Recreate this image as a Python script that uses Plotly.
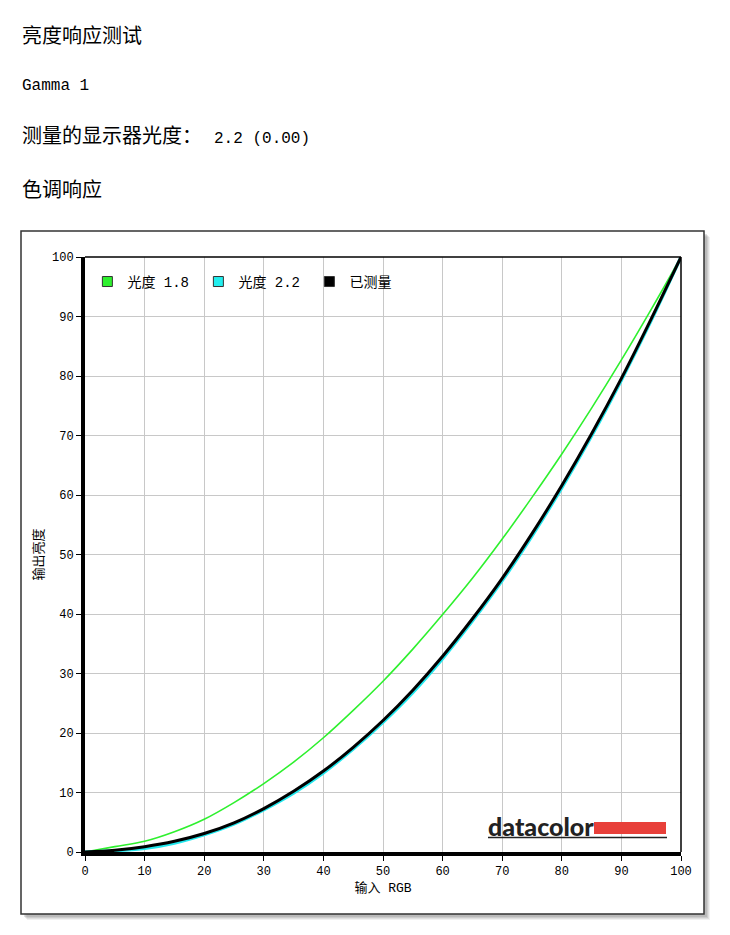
import plotly.graph_objects as go

# tone response curves at every 5 RGB steps
rgb_input = [0, 5, 10, 15, 20, 25, 30, 35, 40, 45, 50,
             55, 60, 65, 70, 75, 80, 85, 90, 95, 100]
gamma_18 = [0, 0.9, 1.8, 3.4, 5.5, 8.3, 11.5, 15.1, 19.2, 23.8, 28.7,
            34.1, 39.9, 46.0, 52.6, 59.6, 66.9, 74.6, 82.7, 91.2, 100]
gamma_22 = [0, 0.2, 0.6, 1.5, 2.9, 4.7, 7.1, 9.9, 13.3, 17.3, 21.8,
            26.8, 32.5, 38.8, 45.6, 53.1, 61.2, 69.9, 79.3, 89.3, 100]
measured = [0, 0.3, 0.9, 1.8, 3.1, 4.9, 7.3, 10.2, 13.6, 17.6, 22.1,
            27.2, 32.9, 39.2, 46.0, 53.5, 61.6, 70.3, 79.6, 89.6, 100]
ticks = [0, 10, 20, 30, 40, 50, 60, 70, 80, 90, 100]

# page pixels (the browser puts the figure 8px in from the corner)
OFF = 8
W, H = 714, 919
L, R, T, B = 85, 681, 257, 852   # plot area in page pixels


def px(x):
    return (x - L) / (R - L)


def py(y):
    return (B - y) / (B - T)


CJK = "Noto Sans CJK SC"
MONO = "Liberation Mono, Noto Sans CJK SC"
GREEN, CYAN = "#2ef02e", "#22e8ee"

fig = go.Figure()
fig.add_trace(go.Scatter(x=rgb_input, y=gamma_18, mode="lines", showlegend=False,
                         line=dict(color=GREEN, width=1.6, shape="spline")))
fig.add_trace(go.Scatter(x=rgb_input, y=gamma_22, mode="lines", showlegend=False,
                         line=dict(color=CYAN, width=3.2, shape="spline")))
fig.add_trace(go.Scatter(x=rgb_input, y=measured, mode="lines", showlegend=False,
                         line=dict(color="#000000", width=3, shape="spline")))

# legend entries with square swatches
for name, col in [("光度 1.8", GREEN), ("光度 2.2", "#22eeee"), ("已测量", "#000000")]:
    fig.add_trace(go.Scatter(x=[None], y=[None], mode="markers", name=name,
                             marker=dict(symbol="square", size=10, color=col,
                                         line=dict(color="#333333", width=1))))

shapes = []
# soft shadow behind the chart frame
for i, op in enumerate([0.10, 0.14, 0.18, 0.22]):
    d = 6 - i
    shapes.append(dict(type="rect", xref="paper", yref="paper", layer="below",
                       x0=px(21 + d), x1=px(704 + d), y0=py(914 + d), y1=py(231 + d),
                       fillcolor=f"rgba(120,120,120,{op})", line=dict(width=0)))
shapes.append(dict(type="rect", xref="paper", yref="paper", layer="below",
                   x0=px(21), x1=px(704), y0=py(914), y1=py(231),
                   fillcolor="white", line=dict(color="#333333", width=1.5)))
# thin top and right borders of the plot area
shapes.append(dict(type="line", xref="paper", yref="paper", x0=0, x1=1, y0=1, y1=1,
                   line=dict(color="black", width=1.5)))
shapes.append(dict(type="line", xref="paper", yref="paper", x0=1, x1=1, y0=0, y1=1,
                   line=dict(color="black", width=1.5)))
# datacolor logo bar + underline
shapes.append(dict(type="rect", xref="paper", yref="paper",
                   x0=px(594), x1=px(666), y0=py(834), y1=py(822),
                   fillcolor="#e8403a", line=dict(width=0)))
shapes.append(dict(type="line", xref="paper", yref="paper",
                   x0=px(488), x1=px(667), y0=py(837.5), y1=py(837.5),
                   line=dict(color="#222222", width=1.5)))

annotations = [
    dict(text="亮度响应测试", x=px(20), y=py(34), font=dict(family=CJK, size=20)),
    dict(text="Gamma 1", x=px(20), y=py(86), font=dict(family=MONO, size=16)),
    dict(text="测量的显示器光度： <span style='font-size:16px'>2.2 (0.00)</span>",
         x=px(20), y=py(137), font=dict(family=MONO, size=20)),
    dict(text="色调响应", x=px(20), y=py(188), font=dict(family=CJK, size=20)),
    dict(text="datacolor", x=px(486), y=py(826),
         font=dict(family="Lato", size=25, color="#222222", weight=900)),
]
for a in annotations:
    a.update(xref="paper", yref="paper", xanchor="left", yanchor="middle", showarrow=False)
    a["font"].setdefault("color", "black")

axis_common = dict(range=[0, 100], tickvals=ticks, showgrid=True, gridcolor="#c8c8c8",
                   gridwidth=1.2, showline=True, linecolor="black", linewidth=4,
                   ticks="outside", ticklen=5, tickwidth=1, tickcolor="black",
                   zeroline=False, tickfont=dict(family=MONO, size=12, color="black"))

fig.update_layout(
    width=W, height=H,
    margin=dict(l=L - OFF, r=W - (R - OFF), t=T - OFF, b=H - (B - OFF)),
    paper_bgcolor="white", plot_bgcolor="white",
    xaxis=dict(**axis_common,
               title=dict(text="输入 RGB", standoff=5,
                          font=dict(family=MONO, size=13, color="black"))),
    yaxis=dict(**axis_common,
               title=dict(text="输出亮度", standoff=6,
                          font=dict(family=CJK, size=13, color="black"))),
    legend=dict(orientation="h", x=0.004, y=0.985, xanchor="left", yanchor="top",
                bgcolor="rgba(0,0,0,0)", entrywidth=66, entrywidthmode="pixels",
                font=dict(family=MONO, size=14, color="black")),
    shapes=shapes,
    annotations=annotations,
)

fig.write_html("out.html")
